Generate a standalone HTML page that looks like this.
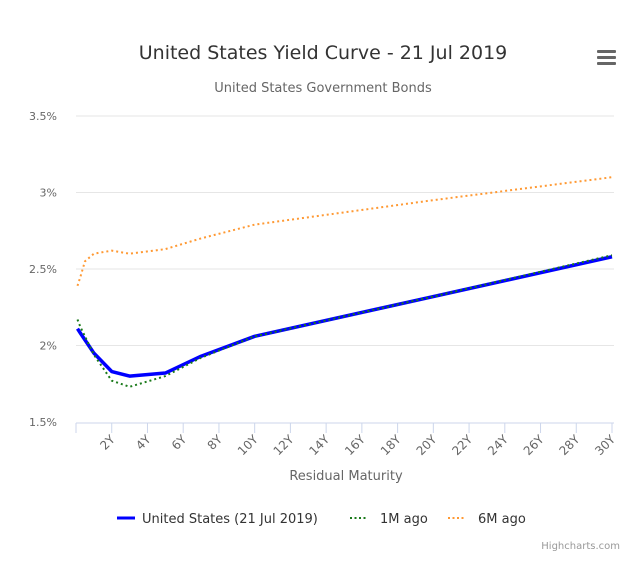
<!DOCTYPE html>
<html><head><meta charset="utf-8"><style>
body{margin:0;background:#fff;font-family:"DejaVu Sans","Liberation Sans",sans-serif}
svg text{font-family:"DejaVu Sans","Liberation Sans",sans-serif}
</style></head><body>
<svg id="c" width="640" height="570">
<text x="323" y="59" text-anchor="middle" font-size="19" fill="#333">United States Yield Curve - 21 Jul 2019</text>
<text x="323" y="92" text-anchor="middle" font-size="13" fill="#666">United States Government Bonds</text>
<g><rect x="597" y="50" width="19" height="3" rx="1" fill="#666"/><rect x="597" y="56" width="19" height="3" rx="1" fill="#666"/><rect x="597" y="62" width="19" height="3" rx="1" fill="#666"/></g>
<g id="grid"></g><g id="xax"></g><g id="series"></g>
<text x="346" y="480" text-anchor="middle" font-size="13" fill="#666">Residual Maturity</text>
<g>
<g><line x1="117" x2="135" y1="518" y2="518" stroke="#0000ff" stroke-width="3"/><text x="142" y="523" font-size="13" fill="#333">United States (21 Jul 2019)</text></g>
<g><line x1="350" x2="366" y1="518" y2="518" stroke="#1a7a1a" stroke-width="2" stroke-dasharray="2,2.5"/><text x="380" y="523" font-size="13" fill="#333">1M ago</text></g>
<g><line x1="448" x2="464" y1="518" y2="518" stroke="#ff9933" stroke-width="2" stroke-dasharray="2,2.5"/><text x="478" y="523" font-size="13" fill="#333">6M ago</text></g>
</g>
<text x="620" y="549" text-anchor="end" font-size="10" fill="#999">Highcharts.com</text>
</svg>
<script>
const yTicks=[1.5,2,2.5,3,3.5];
const xTicks=[2,4,6,8,10,12,14,16,18,20,22,24,26,28,30];
const maturities=[0.083,0.25,1,2,3,5,7,10,20,30];
const usNow=[2.11,2.08,1.95,1.83,1.80,1.82,1.93,2.06,2.32,2.58];
const oneMAgo=[2.17,2.12,1.94,1.77,1.73,1.80,1.92,2.06,2.32,2.59];
const maturities6m=[0.083,0.25,0.5,1,2,3,5,7,10,20,30];
const sixMAgo=[2.39,2.45,2.55,2.60,2.62,2.60,2.63,2.70,2.79,2.95,3.10];
const NS='http://www.w3.org/2000/svg';
const X=v=>76+v*(612-76)/30, Y=v=>422-(v-1.5)*(422-116)/2;
function mk(t,a,p){const e=document.createElementNS(NS,t);for(const k in a)e.setAttribute(k,a[k]);p.appendChild(e);return e;}
const g=document.getElementById('grid');
yTicks.forEach(v=>{
 if(v>1.5){const l=mk('line',{x1:76,x2:614,y1:Y(v),y2:Y(v),stroke:'#e6e6e6'},g);
 
 }
 const t=mk('text',{x:57,y:Y(v)+4,'text-anchor':'end','font-size':11,fill:'#666'},g);
 
 
 t.textContent=v+'%';
});
const xa=document.getElementById('xax');
const ax=mk('line',{x1:76,x2:614,y1:423,y2:423,stroke:'#ccd6eb'},xa);


[0].concat(xTicks).forEach(v=>{
 const tk=mk('line',{x1:X(v),x2:X(v),y1:423,y2:433,stroke:'#ccd6eb'},xa);
 
 
});
xTicks.forEach(v=>{
 const t=mk('text',{x:X(v)+4,y:440,'text-anchor':'end','font-size':12,fill:'#666',transform:`rotate(-45 ${X(v)+4} 440)`},xa);
 
 
 t.textContent=v+'Y';
});
const s=document.getElementById('series');
function line(xs,ys,color,w,dash,name){
 const p=mk('polyline',{points:xs.map((x,i)=>X(x)+','+Y(ys[i])).join(' '),fill:'none',stroke:color,'stroke-width':w,'stroke-linejoin':'round'},s);
 if(dash)p.setAttribute('stroke-dasharray',dash);
 
 
}
line(maturities6m,sixMAgo,'#ff9933',2,'2,3','series-6m-ago');
line(maturities,usNow,'#0000ff',3.5,null,'series-us-current');
line(maturities,oneMAgo,'#1a7a1a',2,'2,3','series-1m-ago');
</script>
</body></html>
